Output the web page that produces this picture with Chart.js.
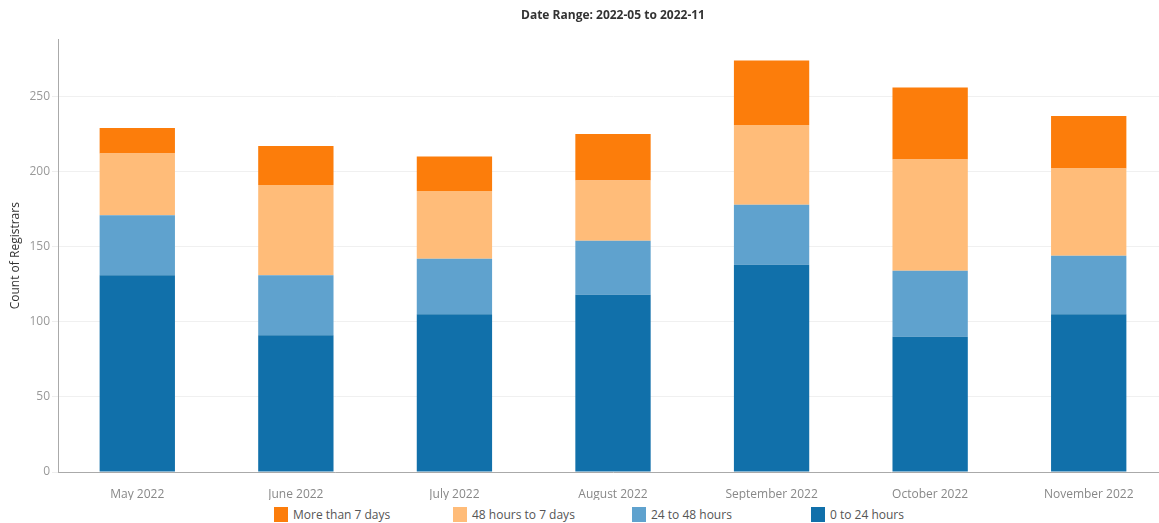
<!DOCTYPE html>
<html>
<head>
<meta charset="utf-8">
<script src="https://cdn.jsdelivr.net/npm/chart.js@4/dist/chart.umd.min.js"></script>
<style>
  html, body { margin: 0; padding: 0; background: #fff; overflow: hidden; }
  #wrap { position: absolute; left: 0; top: 0; width: 1168px; height: 500px; }
  #legend { position: absolute; left: 274px; top: 506px; display: flex; font-family: "Open Sans", sans-serif; font-size: 12px; color: #555; }
  #legend .item { width: 179px; display: flex; align-items: center; }
  #legend .sw { width: 14px; height: 15px; margin-right: 5px; }
</style>
</head>
<body>
<div id="wrap"><canvas id="chart"></canvas></div>
<div id="legend"></div>
<script>
const months = ['May 2022', 'June 2022', 'July 2022', 'August 2022', 'September 2022', 'October 2022', 'November 2022'];
const hours0to24 = [131, 91, 105, 118, 138, 90, 105];
const hours24to48 = [40, 40, 37, 36, 40, 44, 39];
const hours48to7d = [41, 60, 45, 40, 53, 74, 58];
const over7days = [17, 26, 23, 31, 43, 48, 35];
const yTicks = [0, 50, 100, 150, 200, 250];

const font = '"Open Sans", sans-serif';

const chart = new Chart(document.getElementById('chart'), {
    type: 'bar',
    data: {
        labels: months,
        datasets: [
            { label: '0 to 24 hours', data: hours0to24, backgroundColor: '#1170aa' },
            { label: '24 to 48 hours', data: hours24to48, backgroundColor: '#5fa2ce' },
            { label: '48 hours to 7 days', data: hours48to7d, backgroundColor: '#ffbc79' },
            { label: 'More than 7 days', data: over7days, backgroundColor: '#fc7d0b' }
        ]
    },
    options: {
        responsive: true,
        maintainAspectRatio: false,
        animation: false,
        datasets: {
            bar: { barPercentage: 1, categoryPercentage: 0.475, borderWidth: 0 }
        },
        layout: { padding: 0 },
        plugins: {
            legend: { display: false },
            tooltip: { enabled: false },
            title: {
                display: true,
                fullSize: false,
                text: 'Date Range: 2022-05 to 2022-11',
                color: '#333',
                font: { family: font, size: 12, weight: 'bold' },
                padding: { top: 8, bottom: 17 }
            }
        },
        scales: {
            x: {
                stacked: true,
                grid: { display: false },
                border: { display: true, color: '#aaa' },
                ticks: { color: '#888', font: { family: font, size: 12 }, padding: 7 },
                afterFit: function(scale) { scale.height = 28; }
            },
            y: {
                stacked: true,
                min: 0,
                max: 288,
                afterBuildTicks: function(scale) {
                    scale.ticks = yTicks.map(v => ({ value: v }));
                },
                grid: { color: '#f0f0f0', tickColor: '#eee', tickLength: 6 },
                border: { display: true, color: '#aaa' },
                ticks: { color: '#999', font: { family: font, size: 12 }, padding: 2 },
                title: {
                    display: true,
                    text: 'Count of Registrars',
                    color: '#333',
                    font: { family: font, size: 12 },
                    padding: { top: 8, bottom: 0 }
                },
                afterFit: function(scale) { scale.width = 58; }
            }
        }
    }
});

// legend row, listed top segment first
const legendBox = document.getElementById('legend');
chart.data.datasets.slice().reverse().forEach(function(ds) {
    const item = document.createElement('div');
    item.className = 'item';
    item.innerHTML = '<span class="sw" style="background:' + ds.backgroundColor + '"></span><span>' + ds.label + '</span>';
    legendBox.appendChild(item);
});
</script>
</body>
</html>
